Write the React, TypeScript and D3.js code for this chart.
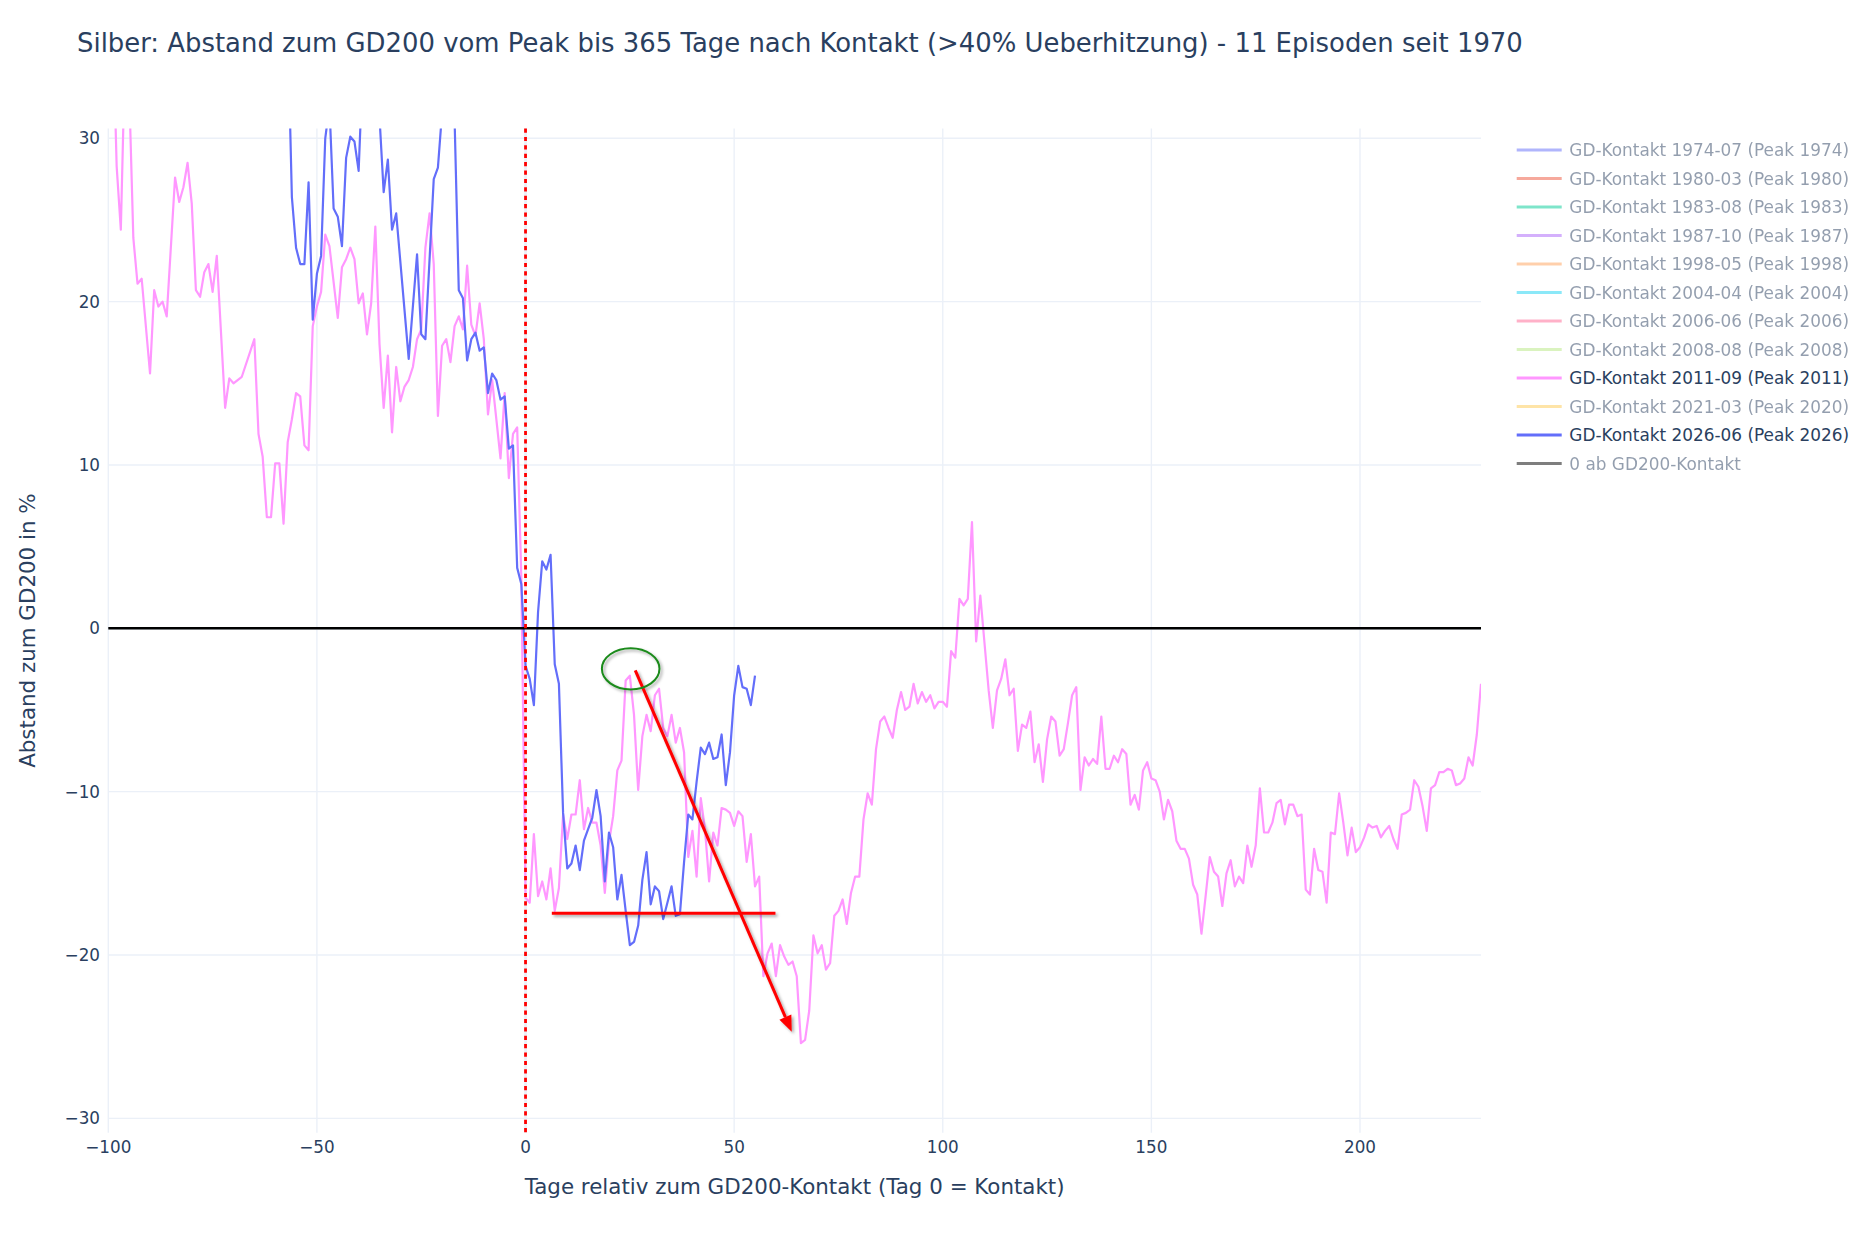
import { useEffect, useRef } from 'react';
import * as d3 from 'd3';

const WIDTH = 1868;
const HEIGHT = 1238;

const TITLE =
  'Silber: Abstand zum GD200 vom Peak bis 365 Tage nach Kontakt (>40% Ueberhitzung) - 11 Episoden seit 1970';
const X_TITLE = 'Tage relativ zum GD200-Kontakt (Tag 0 = Kontakt)';
const Y_TITLE = 'Abstand zum GD200 in %';

const xTicks = [-100, -50, 0, 50, 100, 150, 200];
const yTicks = [-30, -20, -10, 0, 10, 20, 30];

const legendLabels = [
  'GD-Kontakt 1974-07 (Peak 1974)',
  'GD-Kontakt 1980-03 (Peak 1980)',
  'GD-Kontakt 1983-08 (Peak 1983)',
  'GD-Kontakt 1987-10 (Peak 1987)',
  'GD-Kontakt 1998-05 (Peak 1998)',
  'GD-Kontakt 2004-04 (Peak 2004)',
  'GD-Kontakt 2006-06 (Peak 2006)',
  'GD-Kontakt 2008-08 (Peak 2008)',
  'GD-Kontakt 2011-09 (Peak 2011)',
  'GD-Kontakt 2021-03 (Peak 2020)',
  'GD-Kontakt 2026-06 (Peak 2026)',
  '0 ab GD200-Kontakt',
];
const legendColors = [
  '#636efa', '#EF553B', '#00cc96', '#ab63fa', '#FFA15A', '#19d3f3',
  '#FF6692', '#B6E880', '#FF97FF', '#FECB52', '#636efa', '#000000',
];
const legendShown = [false, false, false, false, false, false, false, false, true, false, true, false];

// [tag, abstand in %]
const kontakt2011: [number, number][] = [
  [-100, 40], [-99, 38], [-98, 28.3], [-97, 24.4], [-96, 35], [-95, 33], [-94, 23.9],
  [-93, 21.1], [-92, 21.4], [-90, 15.6], [-89, 20.7], [-88, 19.7], [-87, 20.0], [-86, 19.1],
  [-84, 27.6], [-83, 26.1], [-82, 27.0], [-81, 28.5], [-80, 26.0], [-79, 20.7], [-78, 20.3],
  [-77, 21.8], [-76, 22.3], [-75, 20.6], [-74, 22.8], [-72, 13.5], [-71, 15.3], [-70, 15.0],
  [-69, 15.2], [-68, 15.4], [-65, 17.7], [-64, 11.9], [-63, 10.5], [-62, 6.8], [-61, 6.8],
  [-60, 10.1], [-59, 10.1], [-58, 6.4], [-57, 11.4], [-56, 12.8], [-55, 14.4], [-54, 14.2],
  [-53, 11.2], [-52, 10.9], [-51, 18.5], [-50, 19.7], [-49, 20.6], [-48, 24.1], [-47, 23.4],
  [-45, 19.0], [-44, 22.1], [-43, 22.6], [-42, 23.3], [-41, 22.6], [-40, 19.9], [-39, 20.5],
  [-38, 18.0], [-37, 19.9], [-36, 24.6], [-35, 17.4], [-34, 13.5], [-33, 16.7], [-32, 12.0],
  [-31, 16.0], [-30, 13.9], [-29, 14.8], [-28, 15.2], [-27, 16.0], [-26, 17.7], [-25, 18.3],
  [-24, 23.3], [-23, 25.4], [-22, 22.3], [-21, 13.0], [-20, 17.3], [-19, 17.7], [-18, 16.3],
  [-17, 18.5], [-16, 19.1], [-15, 18.3], [-14, 22.2], [-13, 18.6], [-12, 17.9], [-11, 19.9],
  [-10, 17.7], [-9, 13.1], [-8, 15.2], [-7, 12.8], [-6, 10.4], [-5, 14.4], [-4, 9.2],
  [-3, 11.9], [-2, 12.3], [-1, 3.0],
  [0, -16.5], [1, -16.8], [2, -12.6], [3, -16.4], [4, -15.5], [5, -16.6], [6, -14.7],
  [7, -17.3], [8, -15.9], [9, -11.4], [10, -12.9], [11, -11.4], [12, -11.4], [13, -9.3],
  [14, -12.3], [15, -11.0], [16, -11.9], [17, -11.9], [18, -13.3], [19, -16.2], [20, -13.1],
  [21, -11.5], [22, -8.7], [23, -8.1], [24, -3.2], [25, -2.9], [26, -5.3], [27, -9.9],
  [28, -6.6], [29, -5.3], [30, -6.3], [31, -4.1], [32, -3.7], [33, -6.1], [34, -6.6],
  [35, -5.3], [36, -7.0], [37, -6.1], [38, -7.6], [39, -14.0], [40, -12.4], [41, -15.2],
  [42, -10.4], [43, -12.3], [44, -15.5], [45, -12.5], [46, -13.3], [47, -11.0], [48, -11.1],
  [49, -11.3], [50, -12.1], [51, -11.2], [52, -11.5], [53, -14.3], [54, -12.6], [55, -15.8],
  [56, -15.2], [57, -21.3], [58, -19.9], [59, -19.3], [60, -21.3], [61, -19.4], [62, -20.1],
  [63, -20.6], [64, -20.4], [65, -21.3], [66, -25.4], [67, -25.2], [68, -23.4], [69, -18.8],
  [70, -19.9], [71, -19.4], [72, -20.9], [73, -20.5], [74, -17.6], [75, -17.3], [76, -16.6],
  [77, -18.1], [78, -16.2], [79, -15.2], [80, -15.2], [81, -11.7], [82, -10.1], [83, -10.8],
  [84, -7.4], [85, -5.7], [86, -5.4], [87, -6.1], [88, -6.7], [89, -5.0], [90, -3.9],
  [91, -5.0], [92, -4.8], [93, -3.4], [94, -4.6], [95, -3.9], [96, -4.5], [97, -4.1],
  [98, -4.9], [99, -4.5], [100, -4.5], [101, -4.8], [102, -1.4], [103, -1.8], [104, 1.8],
  [105, 1.4], [106, 1.8], [107, 6.5], [108, -0.8], [109, 2.0], [110, -0.9], [111, -3.8],
  [112, -6.1], [113, -3.8], [114, -3.1], [115, -1.9], [116, -4.1], [117, -3.7], [118, -7.5],
  [119, -5.9], [120, -6.1], [121, -5.1], [122, -8.2], [123, -7.1], [124, -9.4], [125, -6.8],
  [126, -5.4], [127, -5.7], [128, -7.8], [129, -7.4], [130, -5.8], [131, -4.1], [132, -3.6],
  [133, -9.9], [134, -7.9], [135, -8.4], [136, -8.0], [137, -8.3], [138, -5.4], [139, -8.6],
  [140, -8.6], [141, -7.8], [142, -8.2], [143, -7.4], [144, -7.7], [145, -10.8], [146, -10.2],
  [147, -11.1], [148, -8.7], [149, -8.2], [150, -9.2], [151, -9.3], [152, -10.0], [153, -11.7],
  [154, -10.5], [155, -11.2], [156, -13.0], [157, -13.5], [158, -13.5], [159, -14.1],
  [160, -15.7], [161, -16.3], [162, -18.7], [163, -16.4], [164, -14.0], [165, -14.9],
  [166, -15.2], [167, -17.0], [168, -15.0], [169, -14.2], [170, -15.8], [171, -15.2],
  [172, -15.6], [173, -13.3], [174, -14.6], [175, -13.3], [176, -9.8], [177, -12.5],
  [178, -12.5], [179, -11.9], [180, -10.7], [181, -10.5], [182, -12.0], [183, -10.8],
  [184, -10.8], [185, -11.5], [186, -11.4], [187, -16.0], [188, -16.3], [189, -13.5],
  [190, -14.8], [191, -14.9], [192, -16.8], [193, -12.5], [194, -12.6], [195, -10.1],
  [196, -11.9], [197, -13.9], [198, -12.2], [199, -13.7], [200, -13.4], [201, -12.8],
  [202, -12.0], [203, -12.2], [204, -12.1], [205, -12.8], [206, -12.4], [207, -12.1],
  [208, -12.9], [209, -13.5], [210, -11.4], [211, -11.3], [212, -11.1], [213, -9.3],
  [214, -9.7], [215, -10.9], [216, -12.4], [217, -9.8], [218, -9.6], [219, -8.8], [220, -8.8],
  [221, -8.6], [222, -8.7], [223, -9.6], [224, -9.5], [225, -9.2], [226, -7.9], [227, -8.4],
  [228, -6.5], [229, -3.4],
];

const kontakt2026: [number, number][] = [
  [-57, 36.9], [-56, 26.4], [-55, 23.3], [-54, 22.3], [-53, 22.3], [-52, 27.3], [-51, 18.9],
  [-50, 21.7], [-49, 22.8], [-48, 30.0], [-47, 32.0], [-46, 25.7], [-45, 25.2], [-44, 23.4],
  [-43, 28.8], [-42, 30.1], [-41, 29.8], [-40, 28.0], [-39, 34.5], [-38, 38], [-37, 40],
  [-36, 36], [-35, 31.3], [-34, 26.7], [-33, 28.7], [-32, 24.4], [-31, 25.4], [-28, 16.5],
  [-26, 22.9], [-25, 18.0], [-24, 17.7], [-22, 27.5], [-21, 28.2], [-20, 31.6], [-19, 36],
  [-18, 35], [-17, 31.1], [-16, 20.7], [-15, 20.2], [-14, 16.4], [-13, 17.7], [-12, 18.1],
  [-11, 17.0], [-10, 17.2], [-9, 14.4], [-8, 15.6], [-7, 15.2], [-6, 14.0], [-5, 14.2],
  [-4, 11.0], [-3, 11.2], [-2, 3.7], [-1, 2.7],
  [0, -2.3], [1, -3.1], [2, -4.7], [3, 1.0], [4, 4.1], [5, 3.6], [6, 4.5], [7, -2.2],
  [8, -3.4], [9, -11.3], [10, -14.7], [11, -14.4], [12, -13.3], [13, -14.8], [14, -13.0],
  [15, -12.3], [16, -11.6], [17, -9.9], [18, -11.5], [19, -15.5], [20, -12.5], [21, -13.4],
  [22, -16.6], [23, -15.1], [24, -17.3], [25, -19.4], [26, -19.2], [27, -18.2], [28, -15.4],
  [29, -13.7], [30, -16.9], [31, -15.8], [32, -16.1], [33, -17.8], [34, -16.8], [35, -15.8],
  [36, -17.6], [37, -17.5], [38, -14.3], [39, -11.4], [40, -11.7], [41, -9.4], [42, -7.3],
  [43, -7.7], [44, -7.0], [45, -8.0], [46, -7.9], [47, -6.5], [48, -9.6], [49, -7.6],
  [50, -4.1], [51, -2.3], [52, -3.6], [53, -3.7], [54, -4.7], [55, -2.9],
];

// drawn-in marks, in chart units
const markEllipse = { day: 25.2, value: -2.48, rDays: 6.9, rValue: 1.26 };
const markArrow = { fromDay: 26.3, fromValue: -2.57, toDay: 63.8, toValue: -24.7 };
const markSupport = { fromDay: 6.3, toDay: 59.9, value: -17.45 };

const FONT = '"DejaVu Sans", Verdana, sans-serif';
const TEXT = '#2a3f5f';
const GRID = '#ebf0f8';

const App = () => {
  const svgRef = useRef<SVGSVGElement | null>(null);

  useEffect(() => {
    const svg = d3.select(svgRef.current);
    svg.selectAll('*').remove();

    const left = 108.3;
    const right = 1481;
    const top = 128.5;
    const bottom = 1132.7;

    const x = d3.scaleLinear().domain([-100, 229]).range([left, right]);
    const y = d3.scaleLinear().domain([-30.88, 30.6]).range([bottom, top]);

    const defs = svg.append('defs');
    defs
      .append('clipPath')
      .attr('id', 'plot-clip')
      .append('rect')
      .attr('x', left)
      .attr('y', top)
      .attr('width', right - left)
      .attr('height', bottom - top);
    defs
      .append('filter')
      .attr('id', 'mark-shadow')
      .attr('x', '-20%')
      .attr('y', '-20%')
      .attr('width', '140%')
      .attr('height', '140%')
      .append('feDropShadow')
      .attr('dx', 2)
      .attr('dy', 2)
      .attr('stdDeviation', 1.5)
      .attr('flood-color', '#000')
      .attr('flood-opacity', 0.35);

    svg.append('rect').attr('width', WIDTH).attr('height', HEIGHT).attr('fill', '#fff');

    // grid
    const grid = svg.append('g');
    grid
      .selectAll('.vgrid')
      .data(xTicks)
      .join('line')
      .attr('x1', d => x(d))
      .attr('x2', d => x(d))
      .attr('y1', top)
      .attr('y2', bottom)
      .attr('stroke', GRID)
      .attr('stroke-width', d => (d === 0 ? 2.8 : 1.4));
    grid
      .selectAll('.hgrid')
      .data(yTicks)
      .join('line')
      .attr('x1', left)
      .attr('x2', right)
      .attr('y1', d => y(d))
      .attr('y2', d => y(d))
      .attr('stroke', GRID)
      .attr('stroke-width', d => (d === 0 ? 2.8 : 1.4));

    // tick labels
    const fmt = (v: number) => (v < 0 ? '\u2212' + Math.abs(v) : String(v));
    svg
      .append('g')
      .selectAll('text')
      .data(xTicks)
      .join('text')
      .attr('x', d => x(d))
      .attr('y', 1152.7)
      .attr('text-anchor', 'middle')
      .attr('font-family', FONT)
      .attr('font-size', 16.8)
      .attr('fill', TEXT)
      .text(fmt);
    svg
      .append('g')
      .selectAll('text')
      .data(yTicks)
      .join('text')
      .attr('x', 100)
      .attr('y', d => y(d))
      .attr('dy', '0.36em')
      .attr('text-anchor', 'end')
      .attr('font-family', FONT)
      .attr('font-size', 16.8)
      .attr('fill', TEXT)
      .text(fmt);

    // traces
    const line = d3
      .line<[number, number]>()
      .x(d => x(d[0]))
      .y(d => y(d[1]));
    const traces = svg.append('g').attr('clip-path', 'url(#plot-clip)');
    traces
      .append('path')
      .attr('d', line(kontakt2011))
      .attr('fill', 'none')
      .attr('stroke', '#FF97FF')
      .attr('stroke-width', 2.2)
      .attr('stroke-linejoin', 'round');
    traces
      .append('path')
      .attr('d', line(kontakt2026))
      .attr('fill', 'none')
      .attr('stroke', '#636efa')
      .attr('stroke-width', 2.2)
      .attr('stroke-linejoin', 'round');

    // zero line and contact day
    svg
      .append('line')
      .attr('x1', left)
      .attr('x2', right)
      .attr('y1', y(0))
      .attr('y2', y(0))
      .attr('stroke', '#000')
      .attr('stroke-width', 2.6);
    svg
      .append('line')
      .attr('x1', x(0))
      .attr('x2', x(0))
      .attr('y1', top)
      .attr('y2', bottom)
      .attr('stroke', 'red')
      .attr('stroke-width', 2.8)
      .attr('stroke-dasharray', '4.2,4.2');

    // hand drawn marks
    const marks = svg.append('g').attr('filter', 'url(#mark-shadow)');
    marks
      .append('line')
      .attr('x1', x(markSupport.fromDay))
      .attr('x2', x(markSupport.toDay))
      .attr('y1', y(markSupport.value))
      .attr('y2', y(markSupport.value))
      .attr('stroke', '#ff0000')
      .attr('stroke-width', 3);

    const ax1 = x(markArrow.fromDay);
    const ay1 = y(markArrow.fromValue);
    const ax2 = x(markArrow.toDay);
    const ay2 = y(markArrow.toValue);
    const len = Math.hypot(ax2 - ax1, ay2 - ay1);
    const ux = (ax2 - ax1) / len;
    const uy = (ay2 - ay1) / len;
    const headLen = 16;
    const headHalf = 6.5;
    const bx = ax2 - ux * headLen;
    const by = ay2 - uy * headLen;
    marks
      .append('line')
      .attr('x1', ax1)
      .attr('y1', ay1)
      .attr('x2', bx)
      .attr('y2', by)
      .attr('stroke', '#ff0000')
      .attr('stroke-width', 3);
    marks
      .append('polygon')
      .attr(
        'points',
        [
          [ax2, ay2],
          [bx - uy * headHalf, by + ux * headHalf],
          [bx + uy * headHalf, by - ux * headHalf],
        ]
          .map(p => p.join(','))
          .join(' '),
      )
      .attr('fill', '#ff0000');

    marks
      .append('ellipse')
      .attr('cx', x(markEllipse.day))
      .attr('cy', y(markEllipse.value))
      .attr('rx', x(markEllipse.day + markEllipse.rDays) - x(markEllipse.day))
      .attr('ry', y(markEllipse.value - markEllipse.rValue) - y(markEllipse.value))
      .attr('fill', 'none')
      .attr('stroke', '#1a8a1a')
      .attr('stroke-width', 2);

    // titles
    svg
      .append('text')
      .attr('x', 77)
      .attr('y', 52)
      .attr('font-family', FONT)
      .attr('font-size', 25.9)
      .attr('fill', TEXT)
      .text(TITLE);
    svg
      .append('text')
      .attr('x', (left + right) / 2)
      .attr('y', 1194)
      .attr('text-anchor', 'middle')
      .attr('font-family', FONT)
      .attr('font-size', 21.4)
      .attr('fill', TEXT)
      .text(X_TITLE);
    svg
      .append('text')
      .attr('transform', `translate(35, ${(top + bottom) / 2}) rotate(-90)`)
      .attr('text-anchor', 'middle')
      .attr('font-family', FONT)
      .attr('font-size', 21.4)
      .attr('fill', TEXT)
      .text(Y_TITLE);

    // legend
    const legend = svg
      .append('g')
      .selectAll('g')
      .data(legendLabels)
      .join('g')
      .attr('transform', (_d, i) => `translate(0, ${150 + i * 28.5})`)
      .attr('opacity', (_d, i) => (legendShown[i] ? 1 : 0.5));
    legend
      .append('line')
      .attr('x1', 1516.7)
      .attr('x2', 1561.7)
      .attr('stroke', (_d, i) => legendColors[i])
      .attr('stroke-width', 2.8);
    legend
      .append('text')
      .attr('x', 1569.3)
      .attr('dy', '0.36em')
      .attr('font-family', FONT)
      .attr('font-size', 16.9)
      .attr('fill', TEXT)
      .text(d => d);
  }, []);

  return (
    <svg
      ref={svgRef}
      width={WIDTH}
      height={HEIGHT}
      style={{ position: 'absolute', left: 0, top: 0 }}
    ></svg>
  );
};

export default App;
